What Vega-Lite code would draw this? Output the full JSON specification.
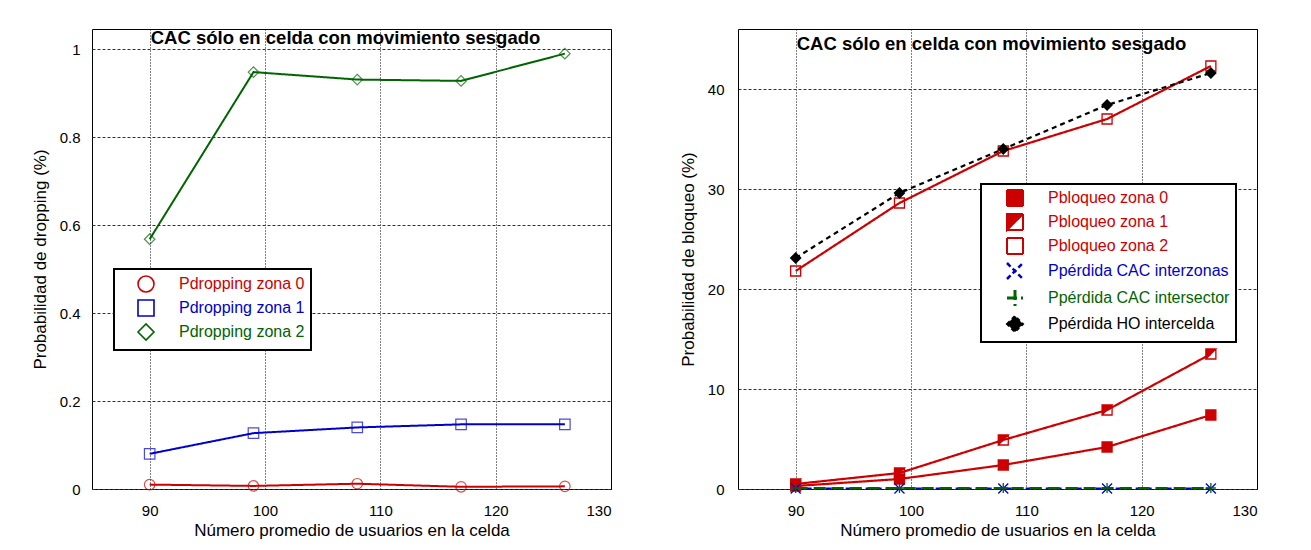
{
  "$schema": "https://vega.github.io/schema/vega-lite/v6.json",
  "padding": {"left": 30, "top": 28, "right": 5, "bottom": 5},
  "background": "white",
  "datasets": {
    "drop": [
      {"x": 90, "y": 0.010, "serie": "zona 0", "clave": "P_dropping zona 0"},
      {"x": 99, "y": 0.007, "serie": "zona 0", "clave": "P_dropping zona 0"},
      {"x": 108, "y": 0.012, "serie": "zona 0", "clave": "P_dropping zona 0"},
      {"x": 117, "y": 0.005, "serie": "zona 0", "clave": "P_dropping zona 0"},
      {"x": 126, "y": 0.006, "serie": "zona 0", "clave": "P_dropping zona 0"},
      {"x": 90, "y": 0.080, "serie": "zona 1", "clave": "P_dropping zona 1"},
      {"x": 99, "y": 0.127, "serie": "zona 1", "clave": "P_dropping zona 1"},
      {"x": 108, "y": 0.140, "serie": "zona 1", "clave": "P_dropping zona 1"},
      {"x": 117, "y": 0.147, "serie": "zona 1", "clave": "P_dropping zona 1"},
      {"x": 126, "y": 0.147, "serie": "zona 1", "clave": "P_dropping zona 1"},
      {"x": 90, "y": 0.568, "serie": "zona 2", "clave": "P_dropping zona 2"},
      {"x": 99, "y": 0.948, "serie": "zona 2", "clave": "P_dropping zona 2"},
      {"x": 108, "y": 0.931, "serie": "zona 2", "clave": "P_dropping zona 2"},
      {"x": 117, "y": 0.928, "serie": "zona 2", "clave": "P_dropping zona 2"},
      {"x": 126, "y": 0.990, "serie": "zona 2", "clave": "P_dropping zona 2"}
    ],
    "bloq": [
      {"x": 90, "y": 0.3, "serie": "zona 0", "clave": "P_bloqueo zona 0"},
      {"x": 99, "y": 1.0, "serie": "zona 0", "clave": "P_bloqueo zona 0"},
      {"x": 108, "y": 2.4, "serie": "zona 0", "clave": "P_bloqueo zona 0"},
      {"x": 117, "y": 4.2, "serie": "zona 0", "clave": "P_bloqueo zona 0"},
      {"x": 126, "y": 7.4, "serie": "zona 0", "clave": "P_bloqueo zona 0"},
      {"x": 90, "y": 0.5, "serie": "zona 1", "clave": "P_bloqueo zona 1"},
      {"x": 99, "y": 1.6, "serie": "zona 1", "clave": "P_bloqueo zona 1"},
      {"x": 108, "y": 4.9, "serie": "zona 1", "clave": "P_bloqueo zona 1"},
      {"x": 117, "y": 7.9, "serie": "zona 1", "clave": "P_bloqueo zona 1"},
      {"x": 126, "y": 13.5, "serie": "zona 1", "clave": "P_bloqueo zona 1"},
      {"x": 90, "y": 21.8, "serie": "zona 2", "clave": "P_bloqueo zona 2"},
      {"x": 99, "y": 28.6, "serie": "zona 2", "clave": "P_bloqueo zona 2"},
      {"x": 108, "y": 33.8, "serie": "zona 2", "clave": "P_bloqueo zona 2"},
      {"x": 117, "y": 37.0, "serie": "zona 2", "clave": "P_bloqueo zona 2"},
      {"x": 126, "y": 42.3, "serie": "zona 2", "clave": "P_bloqueo zona 2"},
      {"x": 90, "y": 0.05, "serie": "CAC interzonas", "clave": "P_pérdida CAC interzonas"},
      {"x": 99, "y": 0.05, "serie": "CAC interzonas", "clave": "P_pérdida CAC interzonas"},
      {"x": 108, "y": 0.05, "serie": "CAC interzonas", "clave": "P_pérdida CAC interzonas"},
      {"x": 117, "y": 0.05, "serie": "CAC interzonas", "clave": "P_pérdida CAC interzonas"},
      {"x": 126, "y": 0.05, "serie": "CAC interzonas", "clave": "P_pérdida CAC interzonas"},
      {"x": 90, "y": 0.1, "serie": "CAC intersector", "clave": "P_pérdida CAC intersector"},
      {"x": 99, "y": 0.1, "serie": "CAC intersector", "clave": "P_pérdida CAC intersector"},
      {"x": 108, "y": 0.1, "serie": "CAC intersector", "clave": "P_pérdida CAC intersector"},
      {"x": 117, "y": 0.1, "serie": "CAC intersector", "clave": "P_pérdida CAC intersector"},
      {"x": 126, "y": 0.1, "serie": "CAC intersector", "clave": "P_pérdida CAC intersector"},
      {"x": 90, "y": 23.1, "serie": "HO intercelda", "clave": "P_pérdida HO intercelda"},
      {"x": 99, "y": 29.6, "serie": "HO intercelda", "clave": "P_pérdida HO intercelda"},
      {"x": 108, "y": 34.0, "serie": "HO intercelda", "clave": "P_pérdida HO intercelda"},
      {"x": 117, "y": 38.4, "serie": "HO intercelda", "clave": "P_pérdida HO intercelda"},
      {"x": 126, "y": 41.6, "serie": "HO intercelda", "clave": "P_pérdida HO intercelda"}
    ]
  },
  "config": {
    "font": "Liberation Sans",
    "view": {"stroke": "black", "strokeWidth": 1},
    "axis": {"labelFont": "Liberation Sans", "titleFont": "Liberation Sans", "labelColor": "black", "titleColor": "black", "labelFontSize": 15, "titleFontSize": 17, "titleFontWeight": "normal", "ticks": false, "domain": false, "gridOpacity": 1, "gridWidth": 1},
    "axisX": {"gridColor": "black", "gridDash": [1, 2], "labelPadding": 14, "titlePadding": 4},
    "axisY": {"gridColor": "#333333", "gridDash": [3, 2], "labelPadding": 12, "titlePadding": 10},
    "legend": {"labelFont": "Liberation Sans", "title": null},
    "title": {"font": "Liberation Sans", "fontSize": 18.5, "fontWeight": "bold", "color": "black", "anchor": "middle", "frame": "group", "baseline": "alphabetic"}
  },
  "spacing": 127,
  "bounds": "flush",
  "resolve": {
    "scale": {"color": "independent", "shape": "independent", "strokeDash": "independent", "fill": "independent", "stroke": "independent"},
    "legend": {"color": "independent", "shape": "independent", "strokeDash": "independent", "fill": "independent", "stroke": "independent"}
  },
  "hconcat": [
    {
      "width": 519,
      "height": 460,
      "data": {"name": "drop"},
      "title": {"text": "CAC sólo en celda con movimiento sesgado", "offset": -18, "dx": -6},
      "encoding": {
        "x": {"field": "x", "type": "quantitative", "scale": {"domain": [85, 130], "nice": false, "zero": false}, "axis": {"values": [90, 100, 110, 120, 130], "title": "Número promedio de usuarios en la celda", "grid": true}},
        "y": {"field": "y", "type": "quantitative", "scale": {"domain": [0, 1.046], "nice": false}, "axis": {"values": [0, 0.2, 0.4, 0.6, 0.8, 1], "format": "~g", "title": "Probabilidad de dropping (%)", "grid": true}}
      },
      "layer": [
        {
          "mark": {"type": "line", "strokeWidth": 2},
          "encoding": {
            "color": {"field": "serie", "type": "nominal", "scale": {"domain": ["zona 0", "zona 1", "zona 2"], "range": ["#cc0000", "#0000cc", "#006400"]},
              "legend": {"orient": "none", "legendX": 22, "legendY": 240, "padding": 6, "strokeColor": "black", "fillColor": "white", "symbolSize": 256, "symbolStrokeWidth": 1.5, "symbolOffset": 17, "labelFontSize": 16, "labelOffset": 24, "labelLimit": 300, "rowPadding": 0, "zindex": 2,
                "labelExpr": "'Pdropping ' + datum.label",
                "encode": {
                  "legend": {"update": {"strokeWidth": {"value": 2}}},
                  "symbols": {"update": {
                    "shape": {"signal": "datum.value == 'zona 0' ? 'M-3.1,0H3.1M0.6,0A0.6,0.6,0,1,1,-0.6,0A0.6,0.6,0,1,1,0.6,0' : datum.value == 'zona 1' ? 'M-3.1,0H3.1M-0.7,-0.7H0.7V0.7H-0.7Z' : 'M-3.1,0H3.1M0,-0.85L0.85,0L0,0.85L-0.85,0Z'"},
                    "stroke": {"signal": "datum.value == 'zona 0' ? '#cc0000' : datum.value == 'zona 1' ? '#0000cc' : '#006400'"},
                    "fill": {"value": "transparent"},
                    "strokeWidth": {"value": 1.6},
                    "opacity": {"value": 1}}},
                  "labels": {"update": {"fill": {"signal": "datum.value == 'zona 0' ? '#cc0000' : datum.value == 'zona 1' ? '#0000cc' : '#006400'"}}}
                }}},
            "strokeDash": {"field": "clave", "type": "nominal", "scale": {"domain": ["P_dropping zona 0", "P_dropping zona 1", "P_dropping zona 2"], "range": [[1, 0], [1, 0], [1, 0]]}, "legend": null}
          }
        },
        {
          "mark": {"type": "point", "filled": false, "size": 110, "strokeWidth": 1.2},
          "encoding": {
            "shape": {"field": "serie", "type": "nominal", "scale": {"domain": ["zona 0", "zona 1", "zona 2"], "range": ["circle", "square", "diamond"]}, "legend": null},
            "color": {"field": "serie", "type": "nominal", "scale": {"domain": ["zona 0", "zona 1", "zona 2"], "range": ["#cc0000", "#0000cc", "#006400"]}}
          }
        }
      ]
    },
    {
      "width": 519,
      "height": 460,
      "data": {"name": "bloq"},
      "title": {"text": "CAC sólo en celda con movimiento sesgado", "offset": -24, "dx": -6},
      "encoding": {
        "x": {"field": "x", "type": "quantitative", "scale": {"domain": [85, 130], "nice": false, "zero": false}, "axis": {"values": [90, 100, 110, 120, 130], "title": "Número promedio de usuarios en la celda", "grid": true}},
        "y": {"field": "y", "type": "quantitative", "scale": {"domain": [0, 46], "nice": false}, "axis": {"values": [0, 10, 20, 30, 40], "format": "d", "title": "Probabilidad de bloqueo (%)", "grid": true, "labelPadding": 14}}
      },
      "layer": [
        {
          "mark": {"type": "line", "strokeWidth": 2.2},
          "encoding": {
            "color": {"field": "serie", "type": "nominal", "scale": {"domain": ["zona 0", "zona 1", "zona 2", "CAC interzonas", "CAC intersector", "HO intercelda"], "range": ["#cc0000", "#cc0000", "#cc0000", "#0000cc", "#006400", "#000000"]},
              "legend": {"orient": "none", "legendX": 243, "legendY": 155, "padding": 6, "strokeColor": "black", "fillColor": "white", "symbolSize": 256, "symbolStrokeWidth": 1.5, "symbolOffset": 20, "labelFontSize": 16, "labelOffset": 25, "labelLimit": 300, "rowPadding": 0, "zindex": 2,
                "labelExpr": "(indexof(datum.label, 'zona') == 0 ? 'Pbloqueo ' : 'Ppérdida ') + datum.label",
                "encode": {
                  "legend": {"update": {"strokeWidth": {"value": 2}}},
                  "symbols": {"update": {
                    "shape": {"signal": "datum.value == 'zona 0' ? 'M-3.2,0H3.2M-0.6,-0.6H0.6V0.6H-0.6Z' : datum.value == 'zona 1' ? 'M-3.2,0H3.2M-0.6,-0.6H0.6V0.6H-0.6ZM-0.6,-0.6V0.6H0.6V-0.6ZM-0.6,-0.6H0.6L-0.6,0.6Z' : datum.value == 'zona 2' ? 'M-3.2,0H3.2M-0.6,-0.6H0.6V0.6H-0.6Z' : datum.value == 'CAC interzonas' ? 'M-3.2,0H3.2M-0.65,-0.65L0.65,0.65M-0.65,0.65L0.65,-0.65' : datum.value == 'CAC intersector' ? 'M-2.6,0H3.2M0,-0.7V0.7' : 'M-3.2,0H3.2M0,-0.75L0.75,0L0,0.75L-0.75,0Z'"},
                    "stroke": {"signal": "indexof(datum.value, 'zona') == 0 ? '#cc0000' : datum.value == 'CAC interzonas' ? '#0000cc' : datum.value == 'CAC intersector' ? '#006400' : '#000000'"},
                    "fill": {"signal": "datum.value == 'zona 0' || datum.value == 'zona 1' ? '#cc0000' : datum.value == 'HO intercelda' ? '#000000' : 'transparent'"},
                    "strokeWidth": {"signal": "datum.value == 'CAC interzonas' ? 2.5 : datum.value == 'CAC intersector' ? 3 : 2"},
                    "strokeDash": {"signal": "datum.value == 'CAC interzonas' ? [5, 3] : datum.value == 'CAC intersector' ? [10, 4] : datum.value == 'HO intercelda' ? [4, 3] : [1, 0]"},
                    "opacity": {"value": 1}}},
                  "labels": {"update": {"fill": {"signal": "indexof(datum.value, 'zona') == 0 ? '#cc0000' : datum.value == 'CAC interzonas' ? '#0000cc' : datum.value == 'CAC intersector' ? '#006400' : '#000000'"}}}
                }}},
            "strokeDash": {"field": "clave", "type": "nominal", "scale": {"domain": ["P_bloqueo zona 0", "P_bloqueo zona 1", "P_bloqueo zona 2", "P_pérdida CAC interzonas", "P_pérdida CAC intersector", "P_pérdida HO intercelda"], "range": [[1, 0], [1, 0], [1, 0], [6, 4], [12, 6], [5, 4]]}, "legend": null}
          }
        },
        {
          "mark": {"type": "point", "filled": false, "size": 100, "strokeWidth": 1.3, "opacity": 1},
          "encoding": {
            "shape": {"field": "serie", "type": "nominal", "scale": {"domain": ["zona 0", "zona 1", "zona 2", "CAC interzonas", "CAC intersector", "HO intercelda"], "range": ["square", "M-1,-1H1V1H-1ZM-1,-1V1H1V-1ZM-1,-1H1L-1,1Z", "square", "M-1,-1L1,1M-1,1L1,-1", "M-1,0H1M0,-1V1", "diamond"]}, "legend": null},
            "fill": {"field": "serie", "type": "nominal", "scale": {"domain": ["zona 0", "zona 1", "zona 2", "CAC interzonas", "CAC intersector", "HO intercelda"], "range": ["#cc0000", "#cc0000", "transparent", "transparent", "transparent", "#000000"]}, "legend": null},
            "stroke": {"field": "serie", "type": "nominal", "scale": {"domain": ["zona 0", "zona 1", "zona 2", "CAC interzonas", "CAC intersector", "HO intercelda"], "range": ["#cc0000", "#cc0000", "#cc0000", "#0000cc", "#006400", "#000000"]}, "legend": null}
          }
        }
      ]
    }
  ]
}
